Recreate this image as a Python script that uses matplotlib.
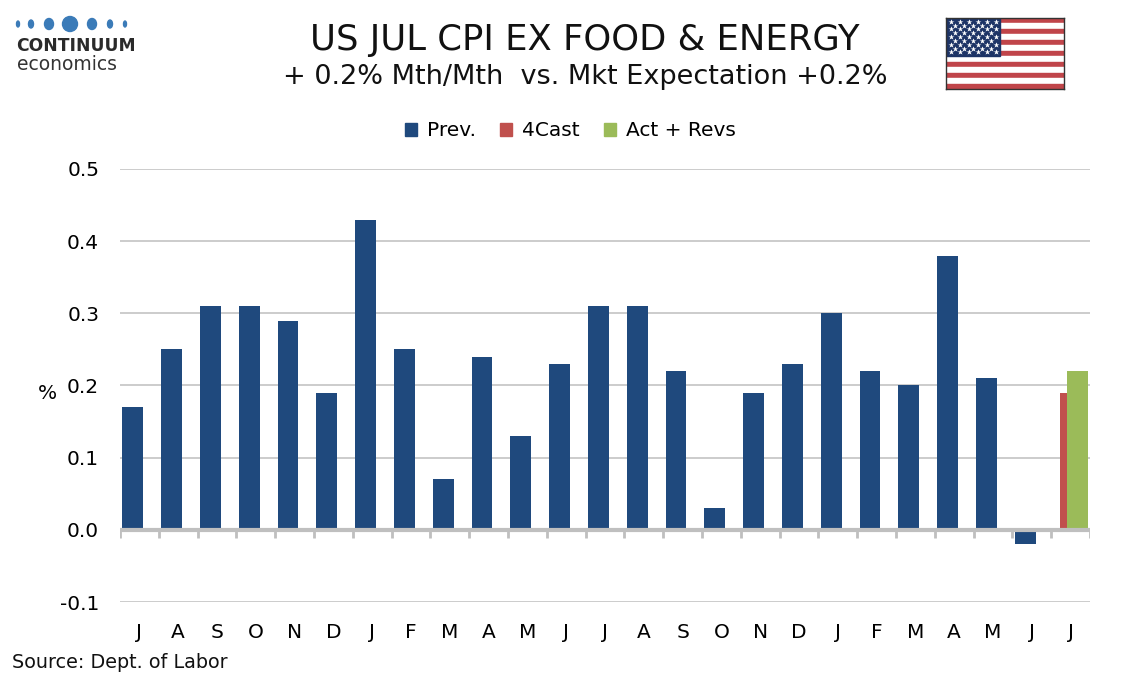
import numpy as np
import matplotlib
matplotlib.use("Agg")
import matplotlib.pyplot as plt
from matplotlib.patches import Patch, Rectangle, Ellipse

# Data
months = ['J', 'A', 'S', 'O', 'N', 'D', 'J', 'F', 'M', 'A', 'M', 'J',
          'J', 'A', 'S', 'O', 'N', 'D', 'J', 'F', 'M', 'A', 'M', 'J', 'J']
prev = [0.17, 0.25, 0.31, 0.31, 0.29, 0.19, 0.43, 0.25, 0.07, 0.24, 0.13, 0.23,
        0.31, 0.31, 0.22, 0.03, 0.19, 0.23, 0.30, 0.22, 0.20, 0.38, 0.21, -0.02, np.nan]
fcast = [np.nan] * 24 + [0.19]
actual = [np.nan] * 24 + [0.22]

yticks = [0.5, 0.4, 0.3, 0.2, 0.1, 0.0, -0.1]

c_prev = '#1f497d'
c_fcast = '#c0504d'
c_act = '#9bbb59'
c_grid = '#c4c4c4'

plt.rcParams['font.family'] = ['DejaVu Sans']

fig = plt.figure(figsize=(11.34, 6.8), dpi=100)
ax = fig.add_axes([120/1134, 1 - 602/680, 970/1134, 433/680])

x = np.arange(len(months))
w = 0.54
ax.bar(x - 0.17, prev, w, color=c_prev, zorder=3)
ax.bar(x, fcast, w, color=c_fcast, zorder=3)
ax.bar(x + 0.17, actual, w, color=c_act, zorder=3)

ax.set_xlim(-0.5, len(months) - 0.5)
ax.set_ylim(-0.1, 0.5)

for v in yticks:
    if v != 0:
        ax.axhline(v, color=c_grid, lw=1.2, zorder=1)
ax.axhline(0, color='#bfbfbf', lw=3, zorder=4)
ax.vlines(np.arange(len(months) + 1) - 0.5, -0.011, 0, color='#bfbfbf', lw=2, zorder=4)

ax.set_yticks(yticks)
ax.set_yticklabels([f'{v:.1f}' for v in yticks], fontsize=14.5)
ax.set_xticks(x)
ax.set_xticklabels(months, fontsize=14.5)
ax.tick_params(axis='y', length=0, pad=15)
ax.tick_params(axis='x', length=0, pad=15)
for s in ax.spines.values():
    s.set_visible(False)

ax.set_ylabel('%', rotation=0, fontsize=14.5)
ax.yaxis.set_label_coords(-0.075, 0.46)

# Titles
fig.text(0.516, 1 - 40/680, 'US JUL CPI EX FOOD & ENERGY', ha='center', va='center',
         fontsize=25.5, color='#111111')
fig.text(0.516, 1 - 77/680, '+ 0.2% Mth/Mth  vs. Mkt Expectation +0.2%', ha='center',
         va='center', fontsize=19.5, color='#111111')

handles = [Patch(color=c_prev, label='Prev.'), Patch(color=c_fcast, label='4Cast'),
           Patch(color=c_act, label='Act + Revs')]
fig.legend(handles=handles, loc='center', bbox_to_anchor=(0.503, 1 - 131/680), ncol=3,
           frameon=False, fontsize=14.5, handlelength=0.6, handleheight=0.6,
           handletextpad=0.5, columnspacing=1.2)

fig.text(12/1134, 1 - 663/680, 'Source: Dept. of Labor', ha='left', va='center',
         fontsize=13.8, color='#111111')

# Logo (pixel coordinates overlay)
lax = fig.add_axes([0, 1 - 80/680, 140/1134, 80/680])
lax.set_xlim(0, 140)
lax.set_ylim(80, 0)
lax.axis('off')
dot_x = [18, 31, 49, 70, 92, 110, 125]
dot_w = [3, 5, 9, 15, 9, 5, 3]
dot_h = [6, 8, 11, 15, 11, 8, 6]
for dx, dw, dh in zip(dot_x, dot_w, dot_h):
    lax.add_patch(Ellipse((dx, 24), dw, dh, color='#3b7bb8'))
lax.text(16, 46, 'CONTINUUM', fontsize=12.3, fontweight='bold', color='#2a2a2a',
         va='center')
lax.text(17, 65, 'economics', fontsize=13.5, color='#333333', va='center')

# Flag
fax = fig.add_axes([946/1134, 1 - 89/680, 118/1134, 71/680])
fax.set_xlim(0, 1.9)
fax.set_ylim(0, 1)
for i in range(13):
    col = '#c0454a' if i % 2 == 0 else 'white'
    fax.add_patch(Rectangle((0, 1 - (i + 1)/13), 1.9, 1/13, color=col))
cw = 0.87
fax.add_patch(Rectangle((0, 6/13), cw, 7/13, color='#1d3466'))
for r in range(9):
    n = 6 if r % 2 == 0 else 5
    off = cw/12 if r % 2 == 0 else cw/6
    for c in range(n):
        fax.plot(off + c*cw/6, 1 - (r + 1)*(7/13)/10, marker='*', ms=4,
                 color='white', mec='none')
fax.set_xticks([])
fax.set_yticks([])
for s in fax.spines.values():
    s.set_color('#333333')
    s.set_linewidth(1)

fig.savefig('out.png', dpi=100)
